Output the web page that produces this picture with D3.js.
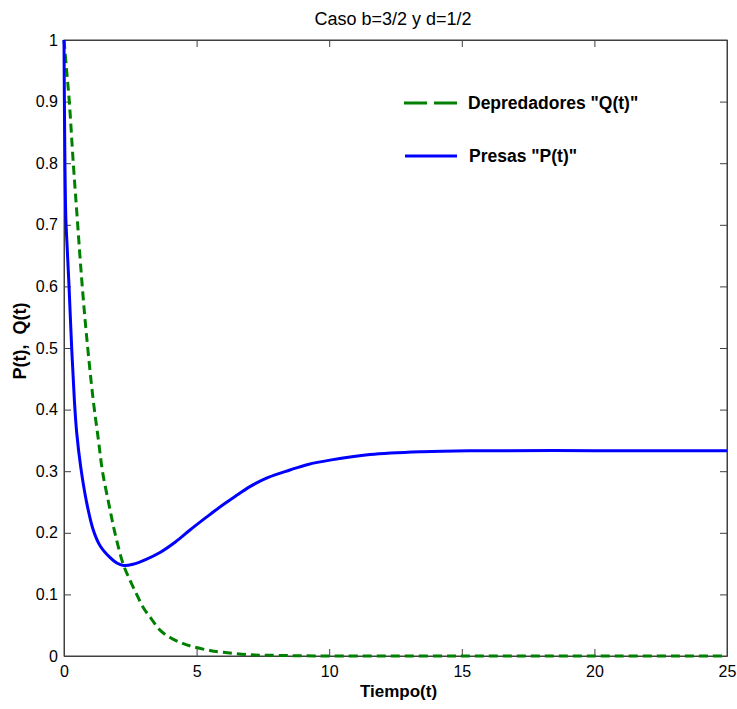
<!DOCTYPE html>
<html>
<head>
<meta charset="utf-8">
<script src="https://cdn.jsdelivr.net/npm/d3@7"></script>
<style>
  html, body { margin: 0; padding: 0; background: #fff; }
  text { font-family: Arial, "Liberation Sans", Helvetica, sans-serif; }
</style>
</head>
<body>
<svg id="chart" width="737" height="709"></svg>
<script>
// ---- data ----
const title = "Caso b=3/2 y d=1/2";
const xLabel = "Tiempo(t)";
const yLabel = "P(t),  Q(t)";
const xTicks = [0, 5, 10, 15, 20, 25];
const yTicks = [0, 0.1, 0.2, 0.3, 0.4, 0.5, 0.6, 0.7, 0.8, 0.9, 1];

// Predators Q(t)
const qTime = [0, 0.1, 0.2, 0.35, 0.5, 0.67, 0.85, 1.1, 1.3, 1.45, 1.7, 1.92, 2.24, 2.5, 2.74, 3.0, 3.3, 3.62, 4.0, 4.5, 4.87, 5.5, 6.0, 7.0, 8.0, 10, 15, 20, 25];
const qVals = [1, 0.95, 0.9, 0.8, 0.71, 0.61, 0.52, 0.416, 0.35, 0.3, 0.245, 0.2, 0.148, 0.122, 0.1, 0.078, 0.06, 0.042, 0.03, 0.02, 0.015, 0.009, 0.006, 0.002, 0.001, 0, 0, 0, 0];

// Prey P(t)
const pTime = [0, 0.015, 0.035, 0.07, 0.12, 0.19, 0.29, 0.39, 0.48, 0.63, 0.85, 1.1, 1.36, 1.73, 1.99, 2.24, 2.6, 3.1, 3.62, 4.2, 4.75, 5.3, 5.88, 6.45, 7.01, 7.7, 8.52, 9.2, 10.03, 11.54, 13.5, 15.3, 20, 25];
const pVals = [1, 0.9, 0.8, 0.71, 0.663, 0.6, 0.5, 0.416, 0.362, 0.307, 0.25, 0.205, 0.179, 0.16, 0.151, 0.147, 0.149, 0.157, 0.168, 0.185, 0.2045, 0.223, 0.242, 0.259, 0.275, 0.29, 0.302, 0.311, 0.318, 0.327, 0.3317, 0.3333, 0.3333, 0.3333];

const legendLabels = ['Depredadores "Q(t)"', 'Presas "P(t)"'];

// ---- layout ----
const svg = d3.select("#chart");
const L = 64, R = 727, T = 40, B = 656;
const x = d3.scaleLinear().domain([0, 25]).range([L, R]);
const y = d3.scaleLinear().domain([0, 1]).range([B, T]);

const axisColor = "#404040";
const fmt = d => d3.format("~g")(d);

// frame
svg.append("rect").attr("x", L).attr("y", T).attr("width", R - L).attr("height", B - T)
  .attr("fill", "none").attr("stroke", axisColor).attr("stroke-width", 1);

// axes with inward ticks
const tl = 7;
const gB = svg.append("g").attr("transform", `translate(0,${B})`)
  .call(d3.axisBottom(x).tickValues(xTicks).tickSizeInner(-tl).tickSizeOuter(0).tickPadding(10).tickFormat(fmt));
const gT = svg.append("g").attr("transform", `translate(0,${T})`)
  .call(d3.axisTop(x).tickValues(xTicks).tickSizeInner(-tl).tickSizeOuter(0).tickFormat(""));
const gL = svg.append("g").attr("transform", `translate(${L},0)`)
  .call(d3.axisLeft(y).tickValues(yTicks).tickSizeInner(-tl).tickSizeOuter(0).tickPadding(6).tickFormat(fmt));
const gR = svg.append("g").attr("transform", `translate(${R},0)`)
  .call(d3.axisRight(y).tickValues(yTicks).tickSizeInner(-tl).tickSizeOuter(0).tickFormat(""));
[gB, gT, gL, gR].forEach(g => {
  g.select(".domain").attr("stroke", axisColor);
  g.selectAll(".tick line").attr("stroke", axisColor);
  g.selectAll(".tick text").attr("fill", "#000").style("font-size", "16px")
    .style("font-family", "Arial, 'Liberation Sans', sans-serif");
});

// curves
const qData = qTime.map((t, i) => [t, qVals[i]]);
const pData = pTime.map((t, i) => [t, pVals[i]]);
const line = d3.line().x(d => x(d[0])).y(d => y(d[1])).curve(d3.curveCatmullRom.alpha(0.5));

svg.append("path").datum(qData).attr("d", line)
  .attr("fill", "none").attr("stroke", "#008000").attr("stroke-width", 3)
  .attr("stroke-dasharray", "9,5");
svg.append("path").datum(pData).attr("d", line)
  .attr("fill", "none").attr("stroke", "#0000ff").attr("stroke-width", 3);

// title and labels
svg.append("text").attr("x", 393).attr("y", 25).attr("text-anchor", "middle")
  .style("font-size", "18px").text(title);
svg.append("text").attr("x", (L + R) / 2 + 3).attr("y", 697).attr("text-anchor", "middle")
  .style("font-size", "17px").style("font-weight", "bold").text(xLabel);
svg.append("text").attr("transform", `translate(26,341) rotate(-90)`)
  .attr("text-anchor", "middle").style("font-size", "18px").style("font-weight", "bold")
  .style("white-space", "pre").text(yLabel);

// legend
const lg = svg.append("g");
lg.append("line").attr("x1", 404).attr("x2", 457).attr("y1", 103).attr("y2", 103)
  .attr("stroke", "#008000").attr("stroke-width", 3).attr("stroke-dasharray", "23,7");
lg.append("text").attr("x", 468).attr("y", 109).style("font-size", "17.5px").style("font-weight", "bold")
  .text(legendLabels[0]);
lg.append("line").attr("x1", 405).attr("x2", 457).attr("y1", 156).attr("y2", 156)
  .attr("stroke", "#0000ff").attr("stroke-width", 3);
lg.append("text").attr("x", 469).attr("y", 162).style("font-size", "17.5px").style("font-weight", "bold")
  .text(legendLabels[1]);
</script>
</body>
</html>
